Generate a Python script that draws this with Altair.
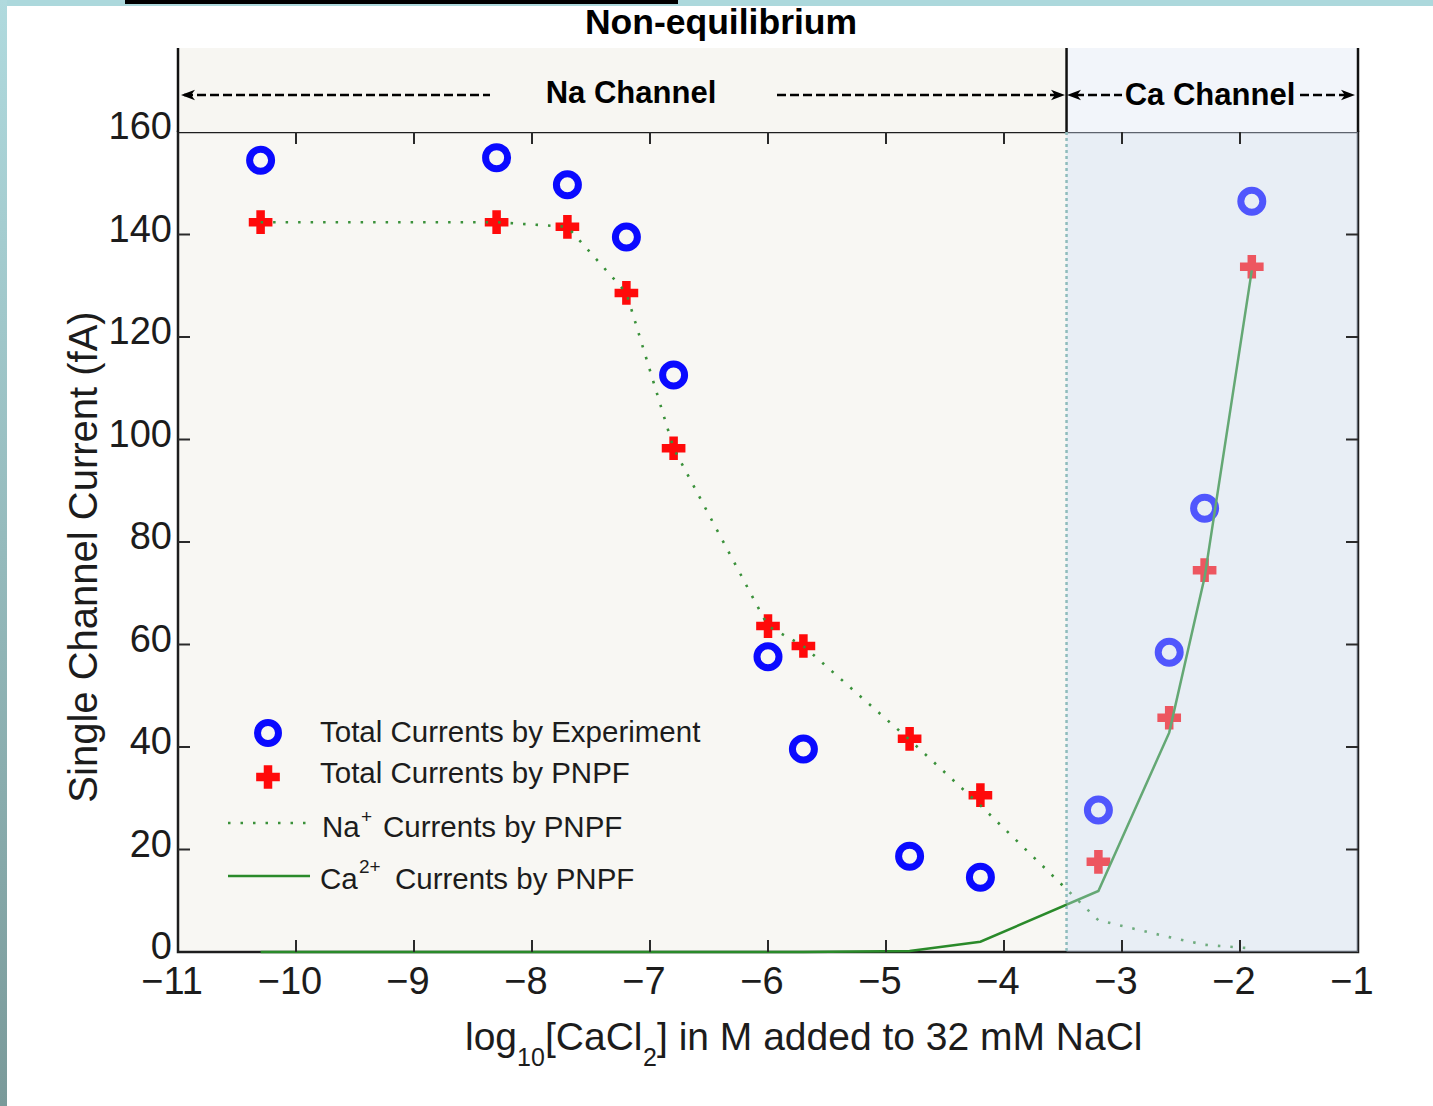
import altair as alt
import pandas as pd

# ---- data -------------------------------------------------------------
# log10 of CaCl2 concentration (M) added to 32 mM NaCl
log_cacl2 = [-10.3, -8.3, -7.7, -7.2, -6.8, -6.0, -5.7, -4.8, -4.2, -3.2, -2.6, -2.3, -1.9]
# single channel currents (fA)
total_exp = [154.5, 155.0, 149.7, 139.5, 112.6, 57.6, 39.6, 18.7, 14.6, 27.7, 58.5, 86.6, 146.5]
total_pnpf = [142.4, 142.4, 141.5, 128.6, 98.3, 63.6, 59.7, 41.6, 30.6, 17.6, 45.7, 74.5, 133.7]
na_pnpf = [142.4, 142.4, 141.5, 128.6, 98.3, 63.6, 59.7, 41.4, 28.6, 6.2, 2.9, 1.4, 0.7]
ca_pnpf = [0.0, 0.0, 0.0, 0.0, 0.0, 0.0, 0.0, 0.2, 2.0, 11.9, 42.8, 73.1, 133.0]

x_ticks = list(range(-11, 0))
y_ticks = list(range(0, 161, 20))
x_inner_ticks = x_ticks[1:-1]
y_inner_ticks = y_ticks[1:-1]
na_ca_boundary = -3.47

# ---- layout -----------------------------------------------------------
W, H = 1180, 820
HEADER = 84
FONT = "Liberation Sans, Arial, Helvetica, sans-serif"
INK = "#1c1c1c"

df = pd.DataFrame({
    "x": log_cacl2,
    "exp": total_exp,
    "pnpf": total_pnpf,
    "na": na_pnpf,
    "ca": ca_pnpf,
})
one = pd.DataFrame({"k": [0]})

xscale = alt.Scale(domain=[-11, -1], nice=False, zero=False)
yscale = alt.Scale(domain=[0, 160], nice=False, zero=False)

CROSS = "M-1,-0.36H-0.36V-1H0.36V-0.36H1V0.36H0.36V1H-0.36V0.36H-1Z"
ARROW_L = "M-1,0L1,-0.75L0.45,0L1,0.75Z"
ARROW_R = "M1,0L-1,-0.75L-0.45,0L-1,0.75Z"


def X(field):
    return alt.X(field, type="quantitative", scale=xscale, axis=None)


def Y(field):
    return alt.Y(field, type="quantitative", scale=yscale, axis=None)


def XD(v):
    return alt.XDatum(v, type="quantitative", scale=xscale, axis=None)


def X2D(v):
    return alt.X2Datum(v)


def text(s, x, y, size, align="left", baseline="middle", font=FONT,
         weight="normal", color=INK, angle=0):
    kw = dict(align=align, baseline=baseline, font=font, fontSize=size,
              fontWeight=weight, color=color)
    if angle:
        kw["angle"] = angle
    return alt.Chart(one).mark_text(**kw).encode(
        x=alt.value(x), y=alt.value(y), text=alt.value(s))


def hrule(x1, x2, y, color="#000", width=2.5, dash=None):
    kw = dict(color=color, strokeWidth=width)
    if dash:
        kw["strokeDash"] = dash
    return alt.Chart(one).mark_rule(**kw).encode(
        x=alt.value(x1), x2=alt.value(x2), y=alt.value(y))


def symbol(shape, x, y, size, color, filled=True, stroke_width=1):
    return alt.Chart(one).mark_point(
        shape=shape, size=size, filled=filled, color=color, opacity=1,
        strokeWidth=stroke_width).encode(x=alt.value(x), y=alt.value(y))


layers = []

# header strip above the plot: Na part and Ca part
layers.append(alt.Chart(one).mark_rect(fill="#f7f6f2").encode(
    x=XD(-11), x2=X2D(na_ca_boundary), y=alt.value(-HEADER), y2=alt.value(0)))
layers.append(alt.Chart(one).mark_rect(fill="#f2f5fa").encode(
    x=XD(na_ca_boundary), x2=X2D(-1), y=alt.value(-HEADER), y2=alt.value(0)))
for xv in [-11, na_ca_boundary, -1]:
    layers.append(alt.Chart(one).mark_rule(color="#111", strokeWidth=2.5).encode(
        x=XD(xv), y=alt.value(-HEADER), y2=alt.value(0)))

# measured currents (open circles) and PNPF totals (crosses)
layers.append(alt.Chart(df).mark_point(
    shape="circle", size=484, filled=False, strokeWidth=7,
    color="#0a0aff", opacity=1).encode(x=X("x"), y=Y("exp")))
layers.append(alt.Chart(df).mark_point(
    shape=CROSS, size=560, filled=True, color="#ff0a0a", opacity=1
).encode(x=X("x"), y=Y("pnpf")))

# PNPF component currents
layers.append(alt.Chart(df).mark_line(
    color="#3a913a", strokeWidth=2.6, strokeDash=[2.5, 10]).encode(
    x=X("x"), y=Y("na")))
layers.append(alt.Chart(df).mark_line(
    color="#2a8a2a", strokeWidth=2.5).encode(x=X("x"), y=Y("ca")))

# Ca channel region tint and its dotted boundary
layers.append(alt.Chart(one).mark_rect(fill="#ccdefa", opacity=0.36).encode(
    x=XD(na_ca_boundary), x2=X2D(-1), y=alt.value(0), y2=alt.value(H)))
layers.append(alt.Chart(one).mark_rule(
    color="#8fbcbc", strokeWidth=2.5, strokeDash=[3, 3]).encode(
    x=XD(na_ca_boundary), y=alt.value(0), y2=alt.value(H)))

# inward tick marks on all four sides
xt = pd.DataFrame({"t": x_inner_ticks})
yt = pd.DataFrame({"t": y_inner_ticks})
TICK = dict(color="#2a2a2a", strokeWidth=2)
layers.append(alt.Chart(xt).mark_rule(**TICK).encode(
    x=X("t"), y=alt.value(H), y2=alt.value(H - 12)))
layers.append(alt.Chart(xt).mark_rule(**TICK).encode(
    x=X("t"), y=alt.value(0), y2=alt.value(12)))
layers.append(alt.Chart(yt).mark_rule(**TICK).encode(
    y=Y("t"), x=alt.value(0), x2=alt.value(12)))
layers.append(alt.Chart(yt).mark_rule(**TICK).encode(
    y=Y("t"), x=alt.value(W - 12), x2=alt.value(W)))

# tick labels
xl = pd.DataFrame({"t": x_ticks})
yl = pd.DataFrame({"t": y_ticks})
layers.append(alt.Chart(xl).mark_text(
    font=FONT, fontSize=38, color=INK, align="center", baseline="middle", dx=-6
).encode(x=X("t"), y=alt.value(H + 31), text=alt.Text("t:Q", format="d")))
layers.append(alt.Chart(yl).mark_text(
    font=FONT, fontSize=38, color=INK, align="right", baseline="middle", dy=-4
).encode(y=Y("t"), x=alt.value(-6), text=alt.Text("t:Q", format="d")))

# channel labels with dashed arrows
ARROW_Y = -37
DASH = [9, 4]
layers += [
    hrule(6, 312, ARROW_Y, dash=DASH),
    hrule(599, 882, ARROW_Y, dash=DASH),
    hrule(897, 944, ARROW_Y, dash=DASH),
    hrule(1122, 1172, ARROW_Y, dash=DASH),
    symbol(ARROW_L, 10, ARROW_Y, 196, "#000"),
    symbol(ARROW_R, 880, ARROW_Y, 196, "#000"),
    symbol(ARROW_L, 896, ARROW_Y, 196, "#000"),
    symbol(ARROW_R, 1170, ARROW_Y, 196, "#000"),
    text("Na Channel", 453, -38, 31, align="center", weight="bold", color="#000"),
    text("Ca Channel", 1032, -36, 31, align="center", weight="bold", color="#000"),
    text("Non-equilibrium", 543, -109, 35.5, align="center", weight="bold", color="#000"),
]

# legend
LEG = 29.5
layers += [
    symbol("circle", 90, 601, 440, "#0a0aff", filled=False, stroke_width=7),
    symbol(CROSS, 90, 645, 560, "#ff0a0a"),
    hrule(50, 130, 691, color="#3a913a", width=2.6, dash=[2.5, 10]),
    hrule(50, 132, 744, color="#2a8a2a", width=2.5),
    text("Total Currents by Experiment", 142, 601, LEG),
    text("Total Currents by PNPF", 142, 642, LEG),
    text("Na", 144, 696, LEG),
    text("+", 183, 685, 19),
    text("Currents by PNPF", 205, 696, LEG),
    text("Ca", 142, 748, LEG),
    text("2+", 181, 735, 19),
    text("Currents by PNPF", 217, 748, LEG),
]

# axis titles
layers += [
    text("Single Channel Current (fA)", -93, 425, 40, align="center", angle=270),
    text("log", 287, 918, 39, baseline="alphabetic"),
    text("10", 339, 934, 25, baseline="alphabetic"),
    text("[CaCl", 367, 918, 39, baseline="alphabetic"),
    text("2", 465, 934, 25, baseline="alphabetic"),
    text("] in M added to 32 mM NaCl", 479, 918, 39, baseline="alphabetic"),
]

# slide decoration around the figure
edge = alt.Gradient(
    gradient="linear",
    stops=[alt.GradientStop(color="#b0dade", offset=0),
           alt.GradientStop(color="#7a9a9a", offset=1)],
    x1=0, x2=0, y1=0, y2=1)
layers += [
    alt.Chart(one).mark_rect(fill="#acd8dc").encode(
        x=alt.value(-178), x2=alt.value(1255), y=alt.value(-132), y2=alt.value(-126)),
    alt.Chart(one).mark_rect(fill="#000").encode(
        x=alt.value(-53), x2=alt.value(500), y=alt.value(-132), y2=alt.value(-128)),
    alt.Chart(one).mark_rect(fill=edge).encode(
        x=alt.value(-178), x2=alt.value(-171), y=alt.value(-132), y2=alt.value(974)),
]

chart = alt.layer(*layers).properties(
    width=W, height=H,
    padding={"left": 178, "top": 132, "right": 75, "bottom": 154},
    autosize=alt.AutoSizeParams(type="none"),
).configure(background="white").configure_view(
    stroke="#1e1e1e", strokeWidth=2.5, fill="#f8f7f3")

chart.save("out.html", embed_options={"renderer": "svg", "actions": False})
